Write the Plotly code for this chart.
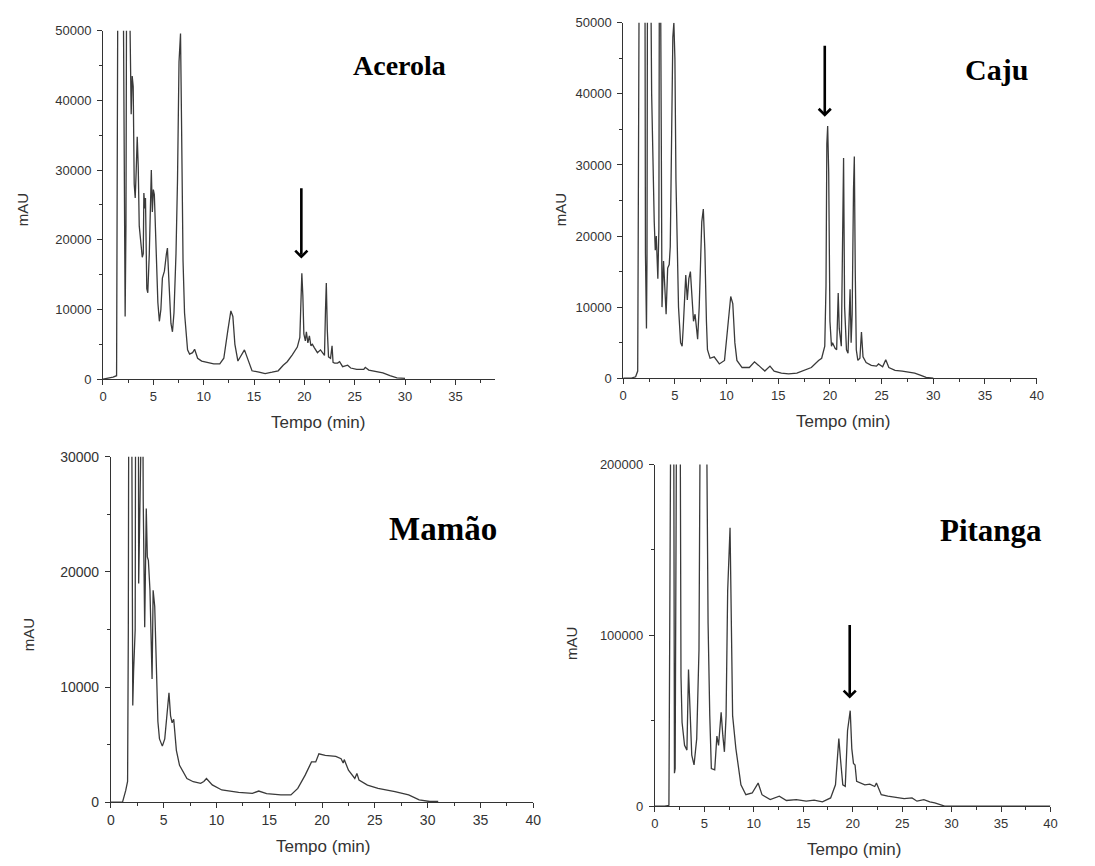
import plotly.graph_objects as go

# ---------------- data ----------------
acerola_t = [0, 0.5, 1.0, 1.35, 1.42, 1.48, 2.0, 2.1, 2.2, 2.28,
             2.35, 2.6, 2.7, 2.8, 2.9, 3.0, 3.1, 3.2, 3.3, 3.4,
             3.5, 3.6, 3.8, 3.9, 4.0, 4.06, 4.15, 4.22, 4.35, 4.45,
             4.6, 4.7, 4.8, 4.9, 5.0, 5.1, 5.25, 5.45, 5.6, 5.75,
             5.9, 6.1, 6.3, 6.4, 6.55, 6.75, 6.9, 7.05, 7.25, 7.4,
             7.55, 7.7, 7.8, 7.95, 8.1, 8.4, 8.6, 8.9, 9.1, 9.4,
             9.8, 10.4, 11.0, 11.6, 12.0, 12.4, 12.7, 12.9, 13.1, 13.4,
             13.8, 14.05, 14.4, 14.8, 15.5, 16.1, 16.8, 17.4, 17.9, 18.3,
             18.8, 19.3, 19.55, 19.65, 19.75, 19.85, 19.95, 20.1, 20.2, 20.35,
             20.5, 20.65, 20.8, 21.0, 21.3, 21.6, 21.9, 22.0, 22.1, 22.18,
             22.28, 22.4, 22.6, 22.75, 22.85, 23.0, 23.3, 23.5, 23.8, 24.3,
             24.6, 25.2, 25.9, 26.05, 26.4, 27.0, 27.8, 28.5, 29.2, 30.0]
acerola_mau = [0, 100, 300, 500, 41000, 60000, 60000, 22000, 9000, 22000,
               60000, 60000, 47000, 38000, 43500, 42000, 28000, 26000, 30000, 34800,
               30500, 22000, 19000, 17500, 18000, 26700, 24500, 26000, 13000, 12400,
               18000, 27000, 30000, 24000, 27200, 26500, 20000, 11000, 8300, 10000,
               14500, 15500, 18000, 18800, 14000, 8000, 6800, 9500, 18000, 28500,
               45500, 49600, 37000, 17000, 9500, 4200, 3600, 3800, 4300, 3000,
               2600, 2400, 2200, 2200, 3000, 7000, 9800, 9000, 5000, 2600,
               3500, 4200, 2800, 1200, 1000, 800, 1000, 1200, 2000, 2500,
               3500, 4600, 6000, 13000, 15200, 12000, 6500, 5500, 6800, 5200,
               6200, 4800, 5000, 4500, 3800, 4200, 3700, 3400, 10000, 13800,
               7000, 3200, 3000, 4800, 2400, 2300, 2300, 2500, 1800, 2000,
               1600, 1400, 1400, 1700, 1300, 1100, 900, 500, 200, 100]

caju_t = [0, 0.8, 1.2, 1.4, 1.45, 1.55, 2.1, 2.15, 2.25, 2.3,
          2.35, 2.65, 2.75, 2.9, 3.0, 3.1, 3.2, 3.35, 3.45, 3.5,
          3.6, 3.68, 3.75, 3.9, 4.05, 4.15, 4.3, 4.45, 4.55, 4.65,
          4.8, 4.9, 5.0, 5.1, 5.2, 5.35, 5.55, 5.7, 5.8, 5.95,
          6.05, 6.2, 6.35, 6.5, 6.65, 6.8, 6.95, 7.1, 7.2, 7.35,
          7.5, 7.6, 7.75, 7.9, 8.05, 8.15, 8.4, 8.8, 9.3, 9.8,
          10.1, 10.4, 10.6, 10.8, 11.0, 11.5, 12.2, 12.7, 13.1, 13.7,
          14.2, 14.6, 15.3, 16.0, 16.8, 17.5, 18.2, 18.9, 19.2, 19.5,
          19.62, 19.7, 19.78, 19.88, 20.0, 20.15, 20.25, 20.5, 20.65, 20.8,
          20.9, 21.1, 21.25, 21.32, 21.42, 21.6, 21.75, 21.95, 22.05, 22.15,
          22.28, 22.36, 22.45, 22.55, 22.7, 22.9, 23.05, 23.2, 23.5, 24.0,
          24.5, 24.7, 25.1, 25.4, 25.7, 26.3, 27.0, 27.8, 28.2, 28.8,
          29.3, 30.0]
caju_mau = [0, 0, 200, 1000, 20000, 60000, 60000, 17500, 7000, 17000,
            60000, 60000, 40000, 25000, 22000, 18000, 20000, 14000, 21000, 60000,
            60000, 35000, 10000, 16500, 12000, 9000, 15500, 16000, 18500, 35000,
            48000, 50000, 45000, 28000, 18000, 10000, 5000, 4500, 7000, 12000,
            14500, 11000, 14000, 15000, 12000, 8000, 9000, 7000, 5500, 10000,
            17000, 22000, 23800, 18000, 8000, 4000, 2800, 3000, 2000, 2500,
            7000, 11500, 10500, 5000, 2500, 1500, 1500, 2300, 1800, 1000,
            1700, 1000, 700, 600, 700, 1100, 1500, 2500, 2800, 4500,
            13000, 33000, 35500, 29000, 8000, 4500, 5000, 4200, 4000, 12000,
            7000, 4500, 28000, 31000, 10000, 4000, 3500, 12500, 5000, 9000,
            26500, 31200, 15000, 4000, 2500, 2800, 6500, 3000, 2200, 1800,
            1700, 2000, 1600, 2600, 1500, 1100, 1000, 800, 700, 400,
            100, 0]

mamao_t = [0, 1.1, 1.4, 1.58, 1.65, 1.7, 1.95, 2.0, 2.07, 2.15,
           2.3, 2.35, 2.6, 2.63, 2.68, 2.75, 3.0, 3.06, 3.2, 3.35,
           3.45, 3.55, 3.7, 3.9, 4.0, 4.15, 4.3, 4.45, 4.6, 4.87,
           5.1, 5.35, 5.5, 5.65, 5.8, 5.95, 6.2, 6.5, 7.2, 7.8,
           8.5, 8.8, 9.05, 9.6, 10.5, 12.1, 13.4, 14.0, 14.75, 16.1,
           17.05, 17.7, 18.4, 19.0, 19.4, 19.7, 20.3, 21.3, 21.8, 22.0,
           22.1, 22.5, 23.1, 23.3, 23.5, 24.3, 25.3, 26.9, 28.2, 29.2,
           30.2, 31.0]
mamao_mau = [0, 0, 1000, 1800, 15000, 40000, 40000, 15000, 8400, 11400,
             15000, 40000, 40000, 19000, 23800, 40000, 40000, 26300, 15200, 25500,
             21300, 21000, 18400, 10700, 18400, 17000, 10800, 7000, 5500, 4870,
             5500, 8000, 9500, 7500, 6900, 7200, 4500, 3200, 2060, 1780,
             1630, 1800, 2060, 1500, 1060, 860, 770, 970, 745, 630,
             630, 1200, 2350, 3500, 3500, 4200, 4070, 3980, 3780, 3400,
             3700, 2780, 2060, 2500, 1920, 1490, 1200, 920, 630, 200,
             60, 60]

pitanga_t = [0, 1.0, 1.42, 1.5, 1.55, 1.62, 1.9, 1.98, 2.05, 2.2,
             2.55, 2.64, 2.75, 3.0, 3.24, 3.4, 3.57, 3.73, 3.96, 4.23,
             4.46, 4.6, 5.2, 5.28, 5.38, 5.55, 5.71, 6.05, 6.27, 6.44,
             6.7, 6.87, 7.03, 7.2, 7.36, 7.6, 7.7, 7.86, 8.19, 8.7,
             9.2, 9.84, 10.44, 10.83, 11.66, 12.58, 13.3, 14.3, 15.3, 16.1,
             16.94, 17.77, 18.26, 18.6, 18.76, 19.0, 19.25, 19.48, 19.75, 19.91,
             20.08, 20.24, 20.4, 20.74, 21.23, 21.73, 22.23, 22.4, 22.89, 23.55,
             24.2, 25.2, 26.0, 26.5, 27.2, 27.8, 28.3, 29.0, 29.3, 40.0]
pitanga_mau = [0, 0, 500, 110000, 250000, 250000, 250000, 19300, 22000, 250000,
               250000, 76000, 49000, 35600, 32800, 80000, 53000, 29900, 24100, 39500,
               91500, 250000, 250000, 176000, 107000, 53000, 22000, 21200, 41000, 35600,
               55000, 41400, 31800, 53000, 126000, 163000, 110800, 53000, 33700, 12500,
               6700, 7700, 13500, 6700, 3850, 5800, 3300, 3850, 2900, 3500,
               2500, 4800, 12500, 39500, 28000, 12500, 11600, 44300, 55900, 33700,
               25000, 24100, 14500, 13500, 12500, 12900, 11500, 13500, 6700, 5800,
               5200, 4400, 4800, 2900, 3850, 2500, 1900, 600, 0, 0]

fruits = ["Acerola", "Caju", "Mamão", "Pitanga"]
x_title = "Tempo (min)"
y_title = "mAU"

# arrows marking the peak of interest: (time, arrow top, arrow tip)
acerola_arrow = (19.7, 27600, 17300)
caju_arrow = (19.5, 47000, 36800)
pitanga_arrow = (19.7, 107000, 63000)

# ---------------- layout helpers ----------------
W, H = 1095, 866
OFF = 8  # default page margin in front of the plot div


def px_x(p):
    return (p - OFF) / W


def px_y(p):
    return 1 - (p - OFF) / H


series = [
    (acerola_t, acerola_mau, "x", "y"),
    (caju_t, caju_mau, "x2", "y2"),
    (mamao_t, mamao_mau, "x3", "y3"),
    (pitanga_t, pitanga_mau, "x4", "y4"),
]

fig = go.Figure()
for t, v, xa, ya in series:
    fig.add_trace(go.Scatter(x=t, y=v, mode="lines", xaxis=xa, yaxis=ya,
                             line=dict(color="#3a3a3a", width=1.3),
                             showlegend=False, hoverinfo="x+y"))


def tf(size):
    return dict(family="Liberation Sans, Arial", size=size, color="#333333")


def xax(domain, rng, anchor, fs=13):
    return dict(domain=domain, range=rng, anchor=anchor, showline=True,
                linecolor="#333333", linewidth=1, ticks="outside", ticklen=5,
                tickcolor="#333333", dtick=5, tick0=0, showgrid=False,
                zeroline=False, tickfont=tf(fs), fixedrange=True,
                tickformat="d",
                minor=dict(ticks="outside", ticklen=3, dtick=2.5, tick0=0,
                           tickcolor="#333333", showgrid=False))


def yax(domain, rng, anchor, dt, fs=13):
    return dict(domain=domain, range=rng, anchor=anchor, showline=True,
                linecolor="#333333", linewidth=1, ticks="outside", ticklen=5,
                tickcolor="#333333", dtick=dt, tick0=0, showgrid=False,
                zeroline=False, tickfont=tf(fs), fixedrange=True,
                tickformat="d", ticklabelstandoff=3,
                minor=dict(ticks="outside", ticklen=3, dtick=dt / 2, tick0=0,
                           tickcolor="#333333", showgrid=False))


fig.update_layout(
    width=W, height=H, margin=dict(l=0, r=0, t=0, b=0),
    paper_bgcolor="white", plot_bgcolor="white",
    xaxis=xax([px_x(100), px_x(496)], [0, 38.9], "y"),
    yaxis=yax([px_y(378), px_y(23)], [0, 50000], "x", 10000),
    xaxis2=xax([px_x(626), px_x(1044)], [0, 40], "y2"),
    yaxis2=yax([px_y(377), px_y(15)], [0, 50000], "x2", 10000),
    xaxis3=xax([px_x(108), px_x(535)], [0, 40], "y3", 14),
    yaxis3=yax([px_y(809), px_y(457)], [0, 30000], "x3", 10000, 14),
    xaxis4=xax([px_x(658), px_x(1058)], [0, 40], "y4"),
    yaxis4=yax([px_y(813), px_y(465)], [0, 200000], "x4", 100000),
)

ann = []
# fruit names
for name, cx, cy, fs in zip(fruits, [400, 1003, 444, 998], [58, 62, 531, 532],
                            [28, 30, 33, 31]):
    ann.append(dict(text=f"<b>{name}</b>", x=px_x(cx), y=px_y(cy), xref="paper",
                    yref="paper", showarrow=False, xanchor="center", yanchor="middle",
                    font=dict(family="Liberation Serif, Times New Roman", size=fs,
                              color="black")))
# axis titles
for cx, cy in [(317, 422), (848, 421), (322, 854), (859, 857)]:
    ann.append(dict(text=x_title, x=px_x(cx), y=px_y(cy), xref="paper", yref="paper",
                    showarrow=False, xanchor="center", yanchor="middle",
                    font=tf(17)))
for cx, cy in [(18, 205), (562, 205), (25, 638), (573, 647)]:
    ann.append(dict(text=y_title, x=px_x(cx), y=px_y(cy), xref="paper", yref="paper",
                    showarrow=False, xanchor="center", yanchor="middle", textangle=-90,
                    font=tf(15)))
# arrows
for (tx, top, tip), xa, ya in [(acerola_arrow, "x", "y"), (caju_arrow, "x2", "y2"),
                               (pitanga_arrow, "x4", "y4")]:
    ann.append(dict(x=tx, y=tip, ax=tx, ay=top, xref=xa, yref=ya, axref=xa, ayref=ya,
                    text="", showarrow=True, arrowhead=4, arrowsize=0.9,
                    arrowwidth=2.6, arrowcolor="black", standoff=0))
fig.update_layout(annotations=ann)

fig.write_html("out.html")
